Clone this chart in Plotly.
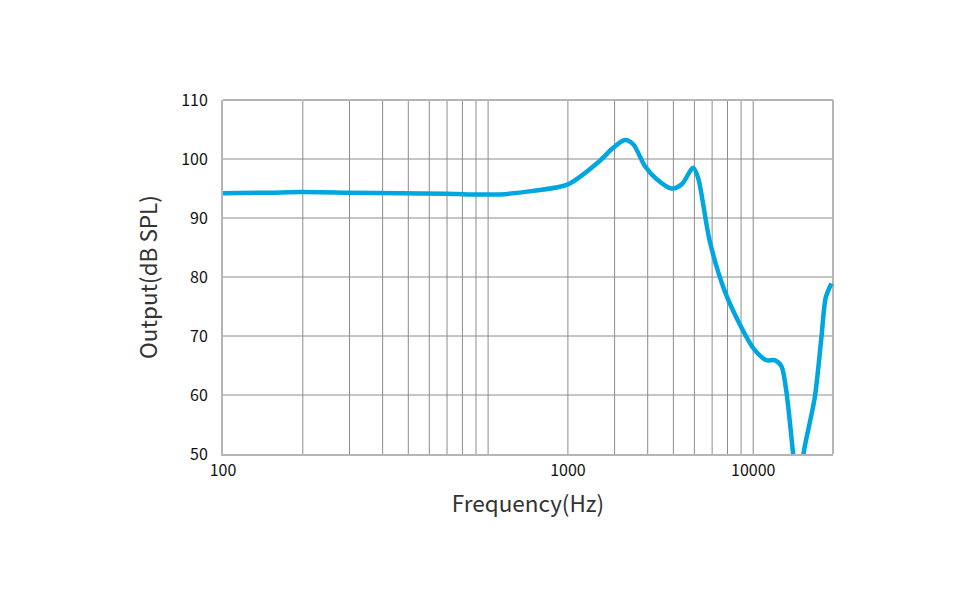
import plotly.graph_objects as go

freq = [100, 150, 197, 303, 470, 700, 835, 1000, 1110, 1477, 2000, 2641, 2965, 3281, 3527, 3902, 4317, 4920, 5374, 5935, 6197, 6855, 7810, 8895, 9990, 11212, 12050, 12770, 13330, 14130, 14600, 15000, 15500, 17060, 18080, 18780, 19730]
spl = [94.2, 94.3, 94.4, 94.3, 94.2, 94.1, 94.0, 94.0, 94.0, 94.6, 95.7, 99.7, 101.9, 103.2, 102.5, 98.8, 96.6, 95.0, 95.7, 98.5, 96.8, 86.1, 77.6, 72.0, 68.0, 65.9, 65.9, 64.9, 60.7, 50.2, 44.0, 44.0, 50.2, 59.5, 69.7, 76.5, 78.9]

x_tickvals = [100, 2000, 10000]
x_ticktext = ["100", "1000", "10000"]
y_tickvals = [50, 60, 70, 80, 90, 100, 110]

grid_x = [200, 300, 400, 500, 600, 700, 800, 900, 1000, 2000, 3000, 4000, 5000, 6000, 7000, 8000, 9000, 10000]

font_family = "Noto Sans CJK SC, Noto Sans, sans-serif"

fig = go.Figure()
fig.add_trace(go.Scatter(
    x=freq, y=spl, mode="lines",
    line=dict(color="#00a6e0", width=4.5, shape="spline", smoothing=0.8),
    showlegend=False, hoverinfo="skip",
))

shapes = []
for g in grid_x:
    shapes.append(dict(type="line", xref="x", yref="paper", x0=g, x1=g, y0=0, y1=1,
                       line=dict(color="#8c8c8c", width=1), layer="below"))
for g in [60, 70, 80, 90, 100]:
    shapes.append(dict(type="line", xref="paper", yref="y", x0=0, x1=1, y0=g, y1=g,
                       line=dict(color="#8c8c8c", width=1), layer="below"))
# top and right frame
shapes.append(dict(type="line", xref="paper", yref="paper", x0=0, x1=1, y0=1, y1=1,
                   line=dict(color="#b5b5b5", width=2), layer="below"))
shapes.append(dict(type="line", xref="paper", yref="paper", x0=1, x1=1, y0=0, y1=1,
                   line=dict(color="#b5b5b5", width=2), layer="below"))

fig.update_layout(
    width=976, height=613,
    margin=dict(l=215, r=151, t=92, b=167),
    paper_bgcolor="white", plot_bgcolor="white",
    font=dict(family=font_family, color="#111111", size=14),
    shapes=shapes,
    xaxis=dict(
        type="log", range=[2, 4.30103],
        tickvals=x_tickvals, ticktext=x_ticktext,
        showgrid=False, zeroline=False,
        showline=True, linecolor="#b5b5b5", linewidth=2,
        ticks="", ticklabelstandoff=1,
        tickfont=dict(size=16, family=font_family, color="#111111"),
        title=dict(text="Frequency(Hz)", font=dict(size=22.5, family=font_family, color="#333333"), standoff=16),
    ),
    yaxis=dict(
        range=[50, 110],
        tickvals=y_tickvals,
        showgrid=False, zeroline=False,
        showline=True, linecolor="#b5b5b5", linewidth=2,
        ticks="", ticklabelstandoff=10,
        tickfont=dict(size=16, family=font_family, color="#111111"),
        title=dict(text="Output(dB SPL)", font=dict(size=22.5, family=font_family, color="#333333"), standoff=17),
    ),
)

fig.write_html("out.html")
